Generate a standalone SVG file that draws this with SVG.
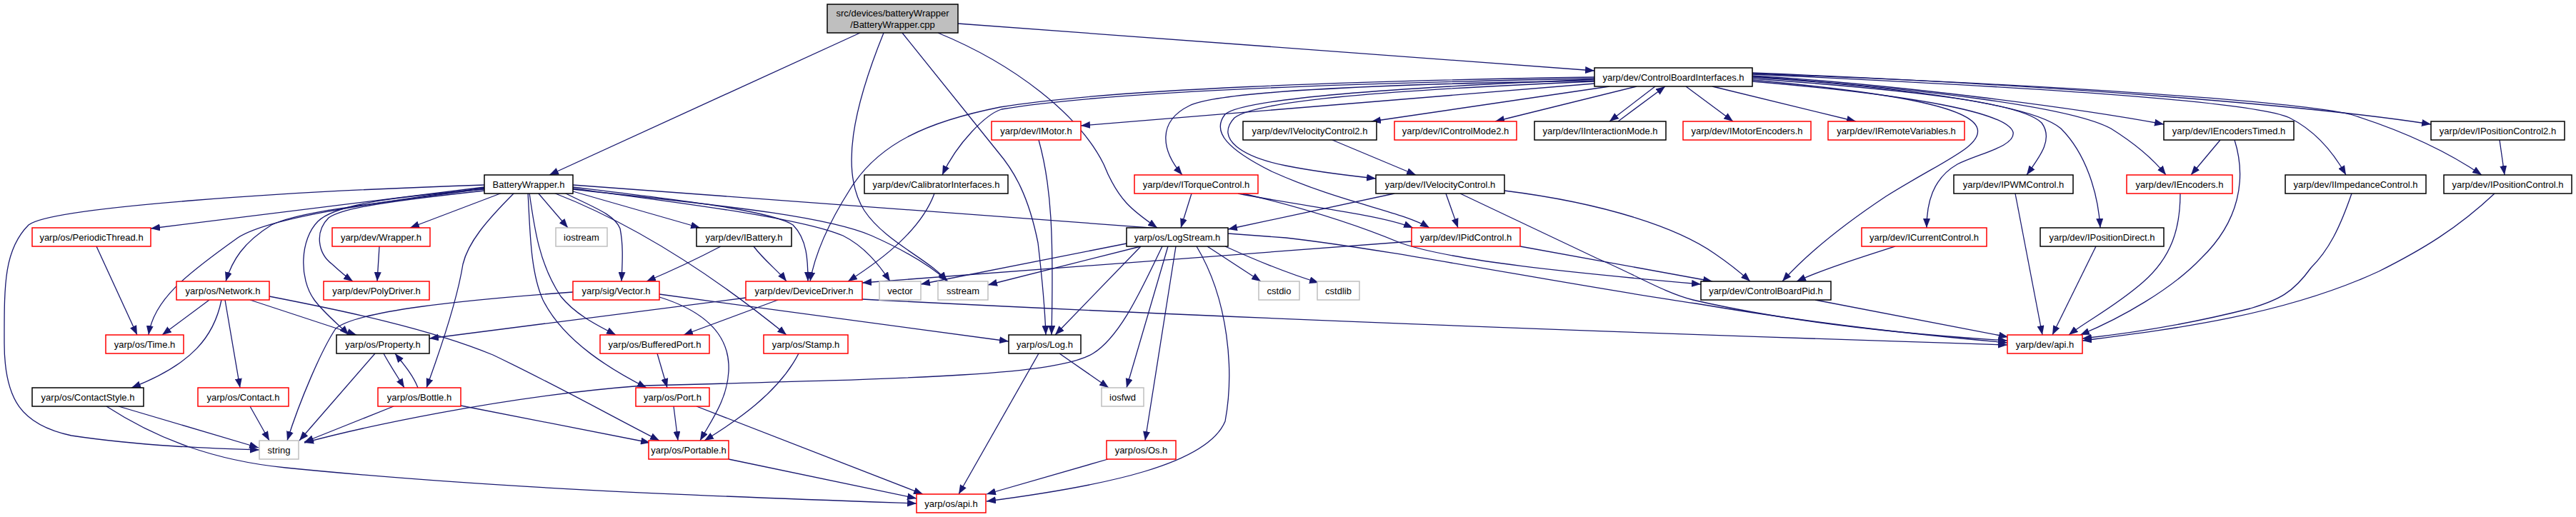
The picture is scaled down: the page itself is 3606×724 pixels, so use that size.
<svg xmlns="http://www.w3.org/2000/svg" width="3606" height="724" viewBox="0 0 3606 724">
<defs>
<marker id="a" markerWidth="13" markerHeight="10" refX="13" refY="5" orient="auto" markerUnits="userSpaceOnUse"><path d="M0,0 L13,5 L0,10 z" fill="#191970"/></marker>
<style>
rect{fill:#fff;stroke-width:1.5}
.k rect{stroke:#000}
.r rect{stroke:#f00}
.g rect{stroke:#bfbfbf}
.root rect{fill:#bfbfbf;stroke:#000}
text{font-family:"Liberation Sans",Arial,Helvetica,sans-serif;font-size:13px;text-anchor:middle;fill:#000}
#edges path{fill:none;stroke:#191970;stroke-width:1.3;marker-end:url(#a)}
</style>
</defs>
<rect x="0" y="0" width="3606" height="724" style="fill:#fff;stroke:none"/>
<g id="edges">
<path d="M1204,46 L769,245"/>
<path d="M1341,33 L2232,99"/>
<path d="M1237,46 C1195,150 1175,240 1210,295 C1240,340 1305,365 1325,394"/>
<path d="M1263,46 L1398,214 C1420,240 1440,275 1453,340 C1460,400 1463,440 1464,469"/>
<path d="M1313,46 C1420,90 1510,160 1545,230 C1565,280 1585,295 1620,319"/>
<path d="M2232,117 L1513,176"/>
<path d="M2232,108 C1900,113 1550,125 1400,150 C1300,170 1230,200 1190,265 C1155,320 1140,360 1134,394"/>
<path d="M2232,110 C1900,116 1550,128 1402,153 C1380,160 1340,200 1319,245"/>
<path d="M2232,113 C1900,118 1700,130 1665,148 C1620,170 1625,210 1655,245"/>
<path d="M2253,121 L1920,170"/>
<path d="M2291,121 L2093,170"/>
<path d="M2317,121 L2253,170"/>
<path d="M2265,170 L2331,121"/>
<path d="M2360,121 L2426,170"/>
<path d="M2397,121 L2598,170"/>
<path d="M2232,114 C1950,126 1760,140 1728,165 C1700,195 1740,220 1800,232 C1850,242 1890,246 1926,250"/>
<path d="M2232,111 C1950,123 1740,138 1715,160 C1695,185 1720,210 1780,240 C1880,285 1960,295 2001,319"/>
<path d="M2453,112 C2650,130 2760,150 2768,180 C2775,205 2720,225 2640,275 C2580,315 2530,355 2495,394"/>
<path d="M2453,114 C2700,135 2810,160 2818,185 C2822,205 2770,215 2740,230 C2705,250 2697,285 2697,319"/>
<path d="M2453,110 C2700,128 2830,145 2858,172 C2875,195 2855,220 2837,245"/>
<path d="M2453,108 C2700,125 2850,150 2885,180 C2920,215 2937,270 2940,319"/>
<path d="M2453,107 C2700,125 2900,150 2955,180 C2995,205 3020,230 3032,245"/>
<path d="M2453,106 C2650,118 2900,150 3029,174"/>
<path d="M2453,104 C2800,120 3150,140 3205,165 C3245,185 3270,220 3284,245"/>
<path d="M2453,103 C2850,118 3200,140 3290,160 C3370,185 3430,215 3474,245"/>
<path d="M2453,102 C2900,120 3250,150 3403,174"/>
<path d="M678,259 C400,268 70,290 40,315 C5,350 6,400 6,480 C6,560 30,595 100,610 C200,625 300,628 363,630"/>
<path d="M678,262 L211,320"/>
<path d="M678,263 C520,285 370,305 330,335 C260,385 215,420 208,469"/>
<path d="M678,264 C530,285 420,295 380,315 C340,340 325,365 316,394"/>
<path d="M678,265 C560,275 470,285 445,310 C420,335 418,390 440,420 C455,440 475,455 488,469"/>
<path d="M678,267 C560,280 480,290 460,305 C440,325 445,355 465,370 C478,382 488,390 494,394"/>
<path d="M703,270 L574,319"/>
<path d="M531,345 L528,394"/>
<path d="M720,270 C680,310 655,340 648,370 C640,420 620,480 597,543"/>
<path d="M739,270 C742,320 742,380 760,420 C790,480 860,520 905,543"/>
<path d="M741,270 C748,320 755,370 785,415 C805,440 835,455 862,469"/>
<path d="M753,270 L795,319"/>
<path d="M790,270 C830,290 860,300 868,320 C873,345 871,370 870,394"/>
<path d="M802,268 L980,319"/>
<path d="M775,270 Q930,330 1101,469"/>
<path d="M802,262 C950,280 1080,295 1110,315 C1130,335 1131,365 1131,394"/>
<path d="M802,264 C960,285 1120,305 1180,330 C1210,345 1230,370 1246,394"/>
<path d="M802,265 C980,285 1150,300 1220,330 C1265,350 1300,370 1327,394"/>
<path d="M802,259 L1800,333 C1950,350 2200,400 2374,425 C2550,455 2700,470 2810,480"/>
<path d="M135,345 L192,469"/>
<path d="M293,420 L227,469"/>
<path d="M310,420 C300,470 270,510 184,543"/>
<path d="M315,420 L336,543"/>
<path d="M350,420 L499,469"/>
<path d="M377,415 C480,435 600,460 690,497 C780,540 860,585 923,617"/>
<path d="M802,409 C650,420 500,435 470,460 C450,490 420,560 402,617"/>
<path d="M923,412 L1412,478"/>
<path d="M923,416 C1000,440 1022,480 1020,520 C1018,560 995,590 980,617"/>
<path d="M1044,417 L601,474"/>
<path d="M1089,420 L957,469"/>
<path d="M1207,419 C1800,450 2400,470 2810,483"/>
<path d="M525,495 L419,617"/>
<path d="M537,495 C545,510 555,525 566,543"/>
<path d="M585,543 C578,525 565,510 553,495"/>
<path d="M920,495 L934,543"/>
<path d="M1118,495 C1090,550 1030,590 986,617"/>
<path d="M1454,495 L1342,692"/>
<path d="M1483,495 L1552,543"/>
<path d="M166,569 L362,627"/>
<path d="M149,569 C220,615 300,645 400,655 C700,685 1000,695 1283,705"/>
<path d="M350,569 L377,617"/>
<path d="M551,569 L426,619"/>
<path d="M645,568 L910,620"/>
<path d="M943,569 L949,617"/>
<path d="M975,569 L1292,692"/>
<path d="M1020,643 L1283,698"/>
<path d="M1551,643 L1381,692"/>
<path d="M1675,345 C1720,420 1728,520 1715,590 C1690,650 1550,680 1381,702"/>
<path d="M1646,345 L1603,617"/>
<path d="M1635,345 L1577,543"/>
<path d="M1597,345 L1477,469"/>
<path d="M1627,345 C1600,400 1570,470 1530,495 C1480,525 1300,530 900,540 C700,555 500,600 426,620"/>
<path d="M1577,341 L1289,398"/>
<path d="M1597,345 L1383,399"/>
<path d="M1690,345 L1765,394"/>
<path d="M1715,345 C1770,370 1810,385 1846,396"/>
<path d="M1009,345 C990,355 950,375 905,394"/>
<path d="M1055,345 C1070,365 1090,380 1101,394"/>
<path d="M1308,271 C1290,320 1240,360 1187,394"/>
<path d="M1454,196 C1472,260 1475,330 1472,469"/>
<path d="M1668,271 L1653,319"/>
<path d="M1733,271 C1830,290 1930,300 1978,319"/>
<path d="M1740,271 C1820,290 1900,315 1960,340 C2030,365 2200,382 2381,398"/>
<path d="M1865,196 L1982,245"/>
<path d="M1952,271 L1719,321"/>
<path d="M2024,271 L2041,319"/>
<path d="M2106,267 C2250,285 2350,320 2400,355 C2425,372 2440,385 2450,394"/>
<path d="M2044,271 L2236,362 C2290,385 2330,410 2370,420 C2500,450 2650,467 2810,477"/>
<path d="M1976,338 L1207,396"/>
<path d="M2128,345 L2397,394"/>
<path d="M2653,345 C2600,362 2550,378 2515,394"/>
<path d="M2541,420 L2811,472"/>
<path d="M2821,271 L2859,469"/>
<path d="M2934,345 L2873,469"/>
<path d="M3052,271 C3052,320 3040,360 3000,395 C2960,430 2920,450 2896,469"/>
<path d="M3108,196 L3067,245"/>
<path d="M3128,196 C3145,250 3135,310 3081,362 C3040,405 2970,445 2912,469"/>
<path d="M3292,271 C3275,320 3260,350 3235,375 C3210,410 3190,420 3150,432 C3060,455 2970,468 2915,474"/>
<path d="M3492,271 C3440,320 3390,350 3330,380 C3200,440 3050,460 2915,477"/>
<path d="M3499,196 L3506,245"/>
</g>
<g id="n_cpp" class="root"><rect x="1158" y="6" width="183" height="40"/><text x="1249.5" y="23">src/devices/batteryWrapper</text><text x="1249.5" y="39">/BatteryWrapper.cpp</text></g>
<g id="n_cbi" class="k"><rect x="2232" y="95" width="221" height="26"/><text x="2342.5" y="113">yarp/dev/ControlBoardInterfaces.h</text></g>
<g id="n_imotor" class="r"><rect x="1388" y="170" width="125" height="26"/><text x="1450.5" y="188">yarp/dev/IMotor.h</text></g>
<g id="n_ivc2" class="k"><rect x="1740" y="170" width="187" height="26"/><text x="1833.5" y="188">yarp/dev/IVelocityControl2.h</text></g>
<g id="n_icm2" class="r"><rect x="1952" y="170" width="171" height="26"/><text x="2037.5" y="188">yarp/dev/IControlMode2.h</text></g>
<g id="n_iim" class="k"><rect x="2148" y="170" width="184" height="26"/><text x="2240" y="188">yarp/dev/IInteractionMode.h</text></g>
<g id="n_ime" class="r"><rect x="2356" y="170" width="179" height="26"/><text x="2445.5" y="188">yarp/dev/IMotorEncoders.h</text></g>
<g id="n_irv" class="r"><rect x="2559" y="170" width="191" height="26"/><text x="2654.5" y="188">yarp/dev/IRemoteVariables.h</text></g>
<g id="n_iet" class="k"><rect x="3029" y="170" width="182" height="26"/><text x="3120" y="188">yarp/dev/IEncodersTimed.h</text></g>
<g id="n_ipc2" class="k"><rect x="3403" y="170" width="187" height="26"/><text x="3496.5" y="188">yarp/dev/IPositionControl2.h</text></g>
<g id="n_bw" class="k"><rect x="678" y="245" width="124" height="26"/><text x="740" y="263">BatteryWrapper.h</text></g>
<g id="n_cal" class="k"><rect x="1210" y="245" width="201" height="26"/><text x="1310.5" y="263">yarp/dev/CalibratorInterfaces.h</text></g>
<g id="n_itc" class="r"><rect x="1588" y="245" width="173" height="26"/><text x="1674.5" y="263">yarp/dev/ITorqueControl.h</text></g>
<g id="n_ivc" class="k"><rect x="1926" y="245" width="180" height="26"/><text x="2016" y="263">yarp/dev/IVelocityControl.h</text></g>
<g id="n_ipwm" class="k"><rect x="2735" y="245" width="167" height="26"/><text x="2818.5" y="263">yarp/dev/IPWMControl.h</text></g>
<g id="n_ienc" class="r"><rect x="2977" y="245" width="148" height="26"/><text x="3051" y="263">yarp/dev/IEncoders.h</text></g>
<g id="n_iimp" class="k"><rect x="3199" y="245" width="197" height="26"/><text x="3297.5" y="263">yarp/dev/IImpedanceControl.h</text></g>
<g id="n_ipc" class="k"><rect x="3421" y="245" width="179" height="26"/><text x="3510.5" y="263">yarp/dev/IPositionControl.h</text></g>
<g id="n_pt" class="r"><rect x="45" y="319" width="166" height="26"/><text x="128" y="337">yarp/os/PeriodicThread.h</text></g>
<g id="n_wrap" class="r"><rect x="465" y="319" width="137" height="26"/><text x="533.5" y="337">yarp/dev/Wrapper.h</text></g>
<g id="n_iostream" class="g"><rect x="778" y="319" width="72" height="26"/><text x="814" y="337">iostream</text></g>
<g id="n_ibat" class="k"><rect x="975" y="319" width="133" height="26"/><text x="1041.5" y="337">yarp/dev/IBattery.h</text></g>
<g id="n_logstream" class="k"><rect x="1577" y="319" width="142" height="26"/><text x="1648" y="337">yarp/os/LogStream.h</text></g>
<g id="n_ipid" class="r"><rect x="1976" y="319" width="152" height="26"/><text x="2052" y="337">yarp/dev/IPidControl.h</text></g>
<g id="n_icc" class="r"><rect x="2606" y="319" width="175" height="26"/><text x="2693.5" y="337">yarp/dev/ICurrentControl.h</text></g>
<g id="n_ipd" class="k"><rect x="2856" y="319" width="173" height="26"/><text x="2942.5" y="337">yarp/dev/IPositionDirect.h</text></g>
<g id="n_network" class="r"><rect x="247" y="394" width="130" height="26"/><text x="312" y="412">yarp/os/Network.h</text></g>
<g id="n_poly" class="r"><rect x="453" y="394" width="148" height="26"/><text x="527" y="412">yarp/dev/PolyDriver.h</text></g>
<g id="n_sigvector" class="r"><rect x="802" y="394" width="121" height="26"/><text x="862.5" y="412">yarp/sig/Vector.h</text></g>
<g id="n_dd" class="r"><rect x="1044" y="394" width="163" height="26"/><text x="1125.5" y="412">yarp/dev/DeviceDriver.h</text></g>
<g id="n_vector" class="g"><rect x="1231" y="394" width="58" height="26"/><text x="1260" y="412">vector</text></g>
<g id="n_sstream" class="g"><rect x="1313" y="394" width="70" height="26"/><text x="1348" y="412">sstream</text></g>
<g id="n_cstdio" class="g"><rect x="1762" y="394" width="57" height="26"/><text x="1790.5" y="412">cstdio</text></g>
<g id="n_cstdlib" class="g"><rect x="1844" y="394" width="59" height="26"/><text x="1873.5" y="412">cstdlib</text></g>
<g id="n_cbpid" class="k"><rect x="2381" y="394" width="182" height="26"/><text x="2472" y="412">yarp/dev/ControlBoardPid.h</text></g>
<g id="n_time" class="r"><rect x="148" y="469" width="109" height="26"/><text x="202.5" y="487">yarp/os/Time.h</text></g>
<g id="n_property" class="k"><rect x="471" y="469" width="130" height="26"/><text x="536" y="487">yarp/os/Property.h</text></g>
<g id="n_bport" class="r"><rect x="840" y="469" width="153" height="26"/><text x="916.5" y="487">yarp/os/BufferedPort.h</text></g>
<g id="n_stamp" class="r"><rect x="1069" y="469" width="118" height="26"/><text x="1128" y="487">yarp/os/Stamp.h</text></g>
<g id="n_log" class="k"><rect x="1412" y="469" width="101" height="26"/><text x="1462.5" y="487">yarp/os/Log.h</text></g>
<g id="n_devapi" class="r"><rect x="2810" y="469" width="105" height="26"/><text x="2862.5" y="487">yarp/dev/api.h</text></g>
<g id="n_cstyle" class="k"><rect x="45" y="543" width="156" height="26"/><text x="123" y="561">yarp/os/ContactStyle.h</text></g>
<g id="n_contact" class="r"><rect x="277" y="543" width="127" height="26"/><text x="340.5" y="561">yarp/os/Contact.h</text></g>
<g id="n_bottle" class="r"><rect x="529" y="543" width="116" height="26"/><text x="587" y="561">yarp/os/Bottle.h</text></g>
<g id="n_port" class="r"><rect x="890" y="543" width="103" height="26"/><text x="941.5" y="561">yarp/os/Port.h</text></g>
<g id="n_iosfwd" class="g"><rect x="1542" y="543" width="59" height="26"/><text x="1571.5" y="561">iosfwd</text></g>
<g id="n_string" class="g"><rect x="363" y="617" width="55" height="26"/><text x="390.5" y="635">string</text></g>
<g id="n_portable" class="r"><rect x="908" y="617" width="112" height="26"/><text x="964" y="635">yarp/os/Portable.h</text></g>
<g id="n_os" class="r"><rect x="1549" y="617" width="97" height="26"/><text x="1597.5" y="635">yarp/os/Os.h</text></g>
<g id="n_osapi" class="r"><rect x="1283" y="692" width="97" height="26"/><text x="1331.5" y="710">yarp/os/api.h</text></g>
</svg>
